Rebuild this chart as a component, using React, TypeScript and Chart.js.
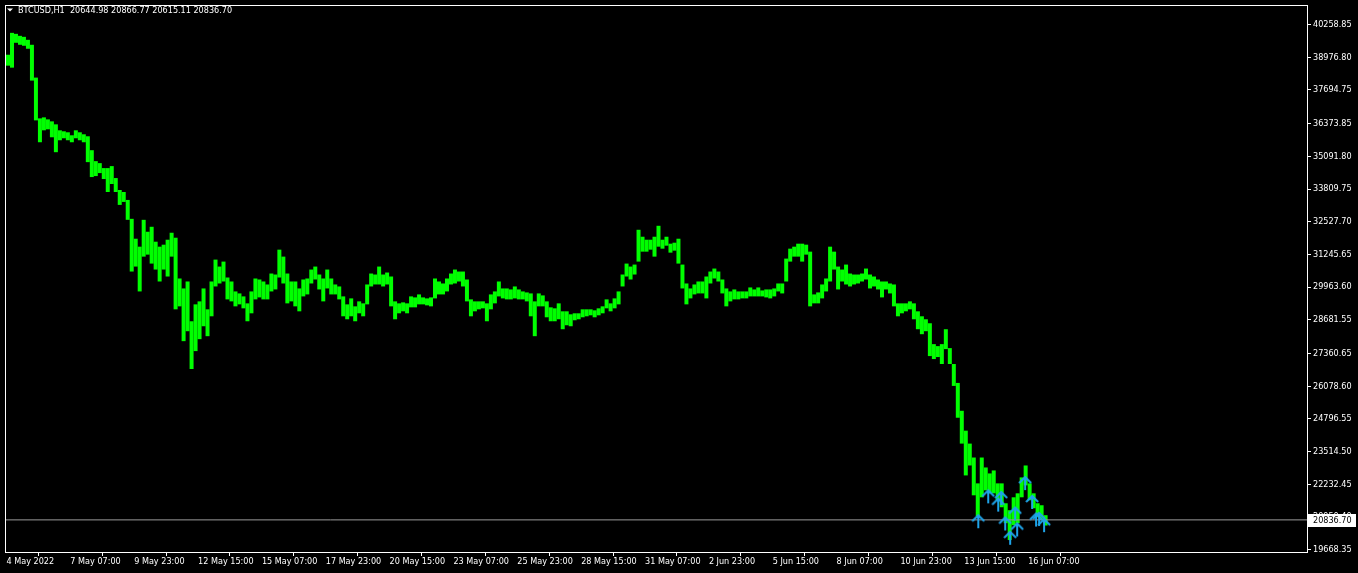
import React, { useEffect, useRef } from 'react';
import { Chart, registerables } from 'chart.js';

Chart.register(...registerables);

// ---- data ----
const symbolTitle = 'BTCUSD,H1';
const lastBarOHLC = [20644.98, 20866.77, 20615.11, 20836.7];
const currentPrice = 20836.7;

const tickLabels = [
  '4 May 2022', '7 May 07:00', '9 May 23:00', '12 May 15:00', '15 May 07:00', '17 May 23:00',
  '20 May 15:00', '23 May 07:00', '25 May 23:00', '28 May 15:00', '31 May 07:00', '2 Jun 23:00',
  '5 Jun 15:00', '8 Jun 07:00', '10 Jun 23:00', '13 Jun 15:00', '16 Jun 07:00',
];
// hour index (bars since the first bar) of each time label
const tickHours = [0, 64, 128, 192, 256, 320, 384, 448, 512, 576, 640, 704, 768, 832, 896, 960, 1024];

const yTicks = [
  40258.85, 38976.8, 37694.75, 36373.85, 35091.8, 33809.75, 32527.7, 31245.65, 29963.6,
  28681.55, 27360.65, 26078.6, 24796.55, 23514.5, 22232.45, 20950.4, 19668.35,
];

// 4-hour blocks (block i covers hours 4i..4i+3): highs and lows
const highs = [
  39077, 39935, 39896, 39818, 39779, 39662, 39467, 38180, 36581, 36620,
  36542, 36464, 36347, 36113, 36074, 36035, 35918, 36113, 36035, 35957,
  35879, 35333, 34904, 34826, 34631, 34631, 34709, 34241, 33773, 33695,
  33383, 32642, 31862, 31550, 32603, 32135, 32330, 31745, 31550, 31628,
  31823, 32096, 31901, 30302, 29912, 30185, 28625, 29288, 29405, 29912,
  29093, 30185, 31043, 30770, 30965, 30341, 30185, 29795, 29717, 29600,
  29327, 29795, 30302, 30263, 30185, 30068, 30497, 30458, 31433, 31160,
  30497, 30185, 30185, 29912, 30263, 30302, 30653, 30770, 30458, 30302,
  30653, 30302, 30068, 29990, 29600, 29288, 29522, 29210, 29405, 29327,
  30068, 30497, 30458, 30770, 30458, 30536, 30380, 29405, 29327, 29366,
  29327, 29600, 29561, 29678, 29561, 29522, 29561, 30302, 30185, 30107,
  30302, 30497, 30653, 30575, 30575, 30263, 29483, 29405, 29405, 29405,
  29327, 29678, 29795, 30185, 29912, 29912, 29873, 29990, 29873, 29795,
  29756, 29717, 29405, 29717, 29639, 29405, 29171, 29132, 29327, 29015,
  29015, 28898, 28937, 28937, 29093, 29093, 29093, 29054, 29132, 29210,
  29483, 29327, 29522, 29795, 30458, 30887, 30770, 30848, 32213, 31940,
  31823, 31823, 31940, 32369, 31823, 31940, 31667, 31706, 31862, 30848,
  30107, 29912, 30068, 30185, 30185, 30380, 30575, 30692, 30575, 30263,
  29912, 29795, 29873, 29795, 29795, 29795, 29951, 29873, 29951, 29834,
  29873, 29873, 29912, 30107, 30107, 31082, 31472, 31550, 31667, 31667,
  31628, 31355, 29678, 29756, 30068, 30302, 31550, 31355, 30770, 30653,
  30848, 30497, 30458, 30458, 30497, 30692, 30458, 30380, 30263, 30185,
  30185, 30107, 30068, 29327, 29327, 29327, 29405, 29327, 29015, 28820,
  28703, 28547, 27728, 27650, 27728, 28313, 27572, 26948, 26207, 25115,
  24335, 23828, 23282, 22268, 23282, 22892, 22658, 22775, 22268, 22268,
  21488, 21215, 21722, 21878, 22502, 22970, 22268, 21878, 21488, 21410,
  21020,
];

const lows = [
  38648, 38570, 39545, 39467, 39428, 39311, 38063, 36503, 35645, 36113,
  36152, 35840, 35255, 35723, 35801, 35723, 35645, 35801, 35723, 35645,
  34865, 34280, 34319, 34436, 34202, 33695, 34007, 33695, 33188, 33305,
  32603, 30575, 30770, 29795, 31160, 31238, 30887, 30653, 30185, 30653,
  30380, 31160, 29093, 29210, 27845, 28235, 26753, 27455, 27923, 28430,
  28040, 28820, 29990, 30107, 30185, 29483, 29405, 29210, 29288, 29132,
  28625, 28937, 29483, 29561, 29483, 29483, 29795, 29873, 30341, 30107,
  29327, 29405, 29210, 29015, 29600, 29678, 30107, 30263, 29873, 29405,
  29912, 29678, 29678, 29483, 28820, 28703, 28820, 28625, 28937, 28820,
  29288, 29990, 30068, 30068, 29990, 30068, 29210, 28703, 28937, 29015,
  28937, 29171, 29171, 29288, 29288, 29249, 29210, 29522, 29678, 29678,
  29795, 30068, 30107, 30185, 29990, 29405, 28820, 29015, 29093, 29132,
  28625, 29093, 29327, 29600, 29522, 29483, 29483, 29522, 29483, 29483,
  29405, 28820, 28040, 29210, 29210, 28781, 28625, 28625, 28703, 28313,
  28469, 28430, 28664, 28703, 28781, 28820, 28859, 28781, 28859, 28937,
  29132, 29015, 29132, 29288, 29990, 30380, 30263, 30458, 30965, 31355,
  31355, 31433, 31160, 31550, 31472, 31589, 31316, 31394, 30887, 29912,
  29288, 29522, 29678, 29717, 29717, 29522, 30107, 30302, 30185, 29717,
  29210, 29405, 29483, 29483, 29522, 29522, 29600, 29600, 29600, 29600,
  29561, 29522, 29600, 29795, 29717, 30185, 30965, 31160, 31160, 30965,
  31238, 29210, 29327, 29327, 29522, 29795, 30185, 30653, 29873, 30185,
  30068, 29990, 30068, 30107, 30185, 30263, 29912, 29990, 29873, 29561,
  29873, 29717, 29210, 28820, 28937, 29015, 29093, 28703, 28313, 28118,
  28235, 27260, 27143, 27221, 26948, 27533, 26948, 26090, 24842, 23828,
  22580, 22970, 21800, 20981, 21722, 21995, 21878, 21878, 21605, 21332,
  20708, 20045, 20630, 20708, 21722, 22190, 21605, 21293, 20942, 20825,
  20615,
];

// arrow signals: hour index of the bar and the arrow tip price
const arrowHours = [974, 984, 994, 997, 1001, 1006, 1011, 1013, 1021, 1028, 1032, 1035, 1040];
const arrowPrices = [21020, 21995, 21671, 21929, 20930, 20369, 21320, 20696, 22514, 21773, 21086, 21110, 20864];

// ---- layout / style constants ----
const W = 1358;
const H = 573;
const HOURS_MIN = -1.5;
const HOURS_MAX = 1303.5;
const BLOCK = 4;
const FONT_FAMILY = '"DejaVu Sans Condensed", "DejaVu Sans", sans-serif';
const FONT_SIZE = 9;
const GREEN = '#00ff00';
const ARROW = '#1ea4ea';

function makeArrow(): HTMLCanvasElement {
  const c = document.createElement('canvas');
  c.width = 14;
  c.height = 28;
  const g = c.getContext('2d')!;
  g.strokeStyle = ARROW;
  g.lineWidth = 2;
  g.lineCap = 'butt';
  g.beginPath();
  g.moveTo(1, 20);
  g.lineTo(7, 14);
  g.lineTo(13, 20);
  g.stroke();
  g.beginPath();
  g.moveTo(7, 14);
  g.lineTo(7, 27);
  g.stroke();
  return c;
}

export default function App() {
  const ref = useRef<HTMLCanvasElement>(null);

  useEffect(() => {
    const canvas = ref.current;
    if (!canvas) return;
    const arrowImg = makeArrow();
    const font = { family: FONT_FAMILY, size: FONT_SIZE };

    const decor = {
      id: 'decor',
      beforeDraw(chart: any) {
        const { ctx } = chart;
        ctx.save();
        ctx.fillStyle = '#000';
        ctx.fillRect(0, 0, chart.width, chart.height);
        ctx.restore();
      },
      afterDraw(chart: any) {
        const { ctx, chartArea: a, scales } = chart;
        ctx.save();
        ctx.strokeStyle = '#ffffff';
        ctx.lineWidth = 1;
        ctx.strokeRect(a.left + 0.5, a.top + 0.5, a.right - a.left, a.bottom - a.top);
        // title
        ctx.fillStyle = '#ffffff';
        ctx.beginPath();
        ctx.moveTo(7, 8.5);
        ctx.lineTo(13, 8.5);
        ctx.lineTo(10, 11.5);
        ctx.closePath();
        ctx.fill();
        ctx.font = `${FONT_SIZE}px ${FONT_FAMILY}`;
        ctx.textBaseline = 'middle';
        ctx.textAlign = 'left';
        ctx.fillText(`${symbolTitle}  ${lastBarOHLC.map((v) => v.toFixed(2)).join(' ')}`, 18, 10.5);
        // current price label
        const y = Math.round(scales.y.getPixelForValue(currentPrice));
        ctx.fillStyle = '#ffffff';
        ctx.fillRect(a.right + 1, y - 6, 48, 13);
        ctx.fillStyle = '#000000';
        ctx.fillText(currentPrice.toFixed(2), a.right + 6, y + 0.5);
        ctx.restore();
      },
    };

    const chart = new Chart(canvas, {
      type: 'bar',
      data: {
        datasets: [
          {
            type: 'scatter',
            data: arrowHours.map((h, i) => ({ x: h, y: arrowPrices[i] })),
            pointStyle: arrowImg as any,
            pointRadius: 3,
            order: 0,
          } as any,
          {
            type: 'line',
            data: [
              { x: HOURS_MIN, y: currentPrice },
              { x: HOURS_MAX, y: currentPrice },
            ],
            borderColor: '#9a9a9a',
            borderWidth: 1,
            pointRadius: 0,
            order: 1,
          } as any,
          {
            type: 'bar',
            data: highs.map((h, i) => ({ x: i * BLOCK + 1.5, y: [lows[i], h] })),
            backgroundColor: GREEN,
            borderWidth: 0,
            barPercentage: 1,
            categoryPercentage: 1,
            inflateAmount: 0,
            order: 2,
          } as any,
        ],
      },
      options: {
        animation: false,
        responsive: false,
        devicePixelRatio: 1,
        events: [],
        layout: { padding: { top: 2, left: 2, right: 0, bottom: 0 } },
        plugins: { legend: { display: false }, tooltip: { enabled: false }, title: { display: false } },
        scales: {
          x: {
            type: 'linear',
            offset: false,
            position: 'bottom',
            min: HOURS_MIN,
            max: HOURS_MAX,
            border: { display: false },
            grid: {
              display: true,
              drawOnChartArea: false,
              drawTicks: true,
              tickLength: 4,
              color: '#ffffff',
            },
            ticks: {
              autoSkip: false,
              maxRotation: 0,
              minRotation: 0,
              align: 'start',
              padding: 0,
              color: '#ffffff',
              font,
              callback: (_v: any, i: number) => tickLabels[i],
            },
            afterBuildTicks: (s: any) => {
              s.ticks = tickHours.map((value) => ({ value }));
            },
            afterFit: (s: any) => {
              s.height = 21;
              s.paddingLeft = 0;
              s.paddingRight = 0;
              s.paddingTop = 0;
              s.paddingBottom = 0;
            },
          },
          y: {
            type: 'linear',
            position: 'right',
            min: 19577,
            max: 41027,
            border: { display: false },
            grid: { display: true, drawOnChartArea: false, drawTicks: true, tickLength: 4, color: '#ffffff' },
            ticks: {
              padding: 2,
              color: '#ffffff',
              font,
              callback: (v: any) => Number(v).toFixed(2),
            },
            afterBuildTicks: (s: any) => {
              s.ticks = yTicks.map((value) => ({ value }));
            },
            afterFit: (s: any) => {
              s.width = W - 1307;
              s.paddingTop = 0;
              s.paddingBottom = 0;
              s.paddingLeft = 0;
              s.paddingRight = 0;
            },
          },
        },
      } as any,
      plugins: [decor],
    });

    return () => chart.destroy();
  }, []);

  return (
    <div style={{ position: 'fixed', left: 0, top: 0, width: W, height: H, background: '#000' }}>
      <canvas ref={ref} width={W} height={H} style={{ display: 'block', width: W, height: H }} />
    </div>
  );
}
